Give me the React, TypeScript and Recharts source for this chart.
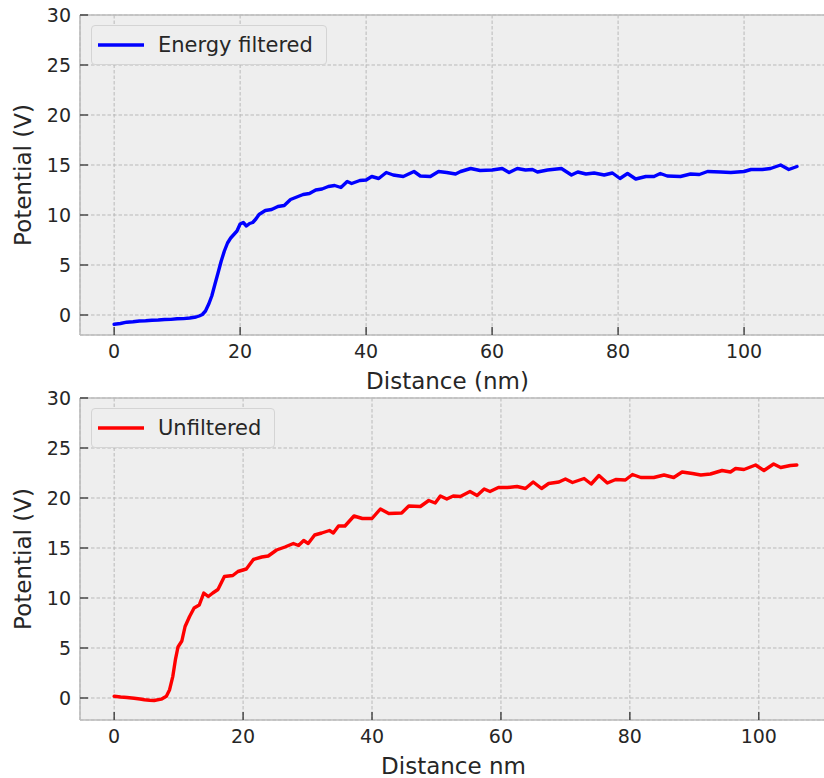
import { LineChart, Line, XAxis, YAxis, CartesianGrid, ReferenceLine, Legend, Label } from 'recharts';

// energy filtered profile (nm, V)
const filteredDistance = [
  0, 1, 2, 3, 4, 5, 6, 7, 8, 9, 10, 11, 12, 13, 13.5, 14, 14.5, 15, 15.5, 16, 16.5, 17, 17.5, 18, 18.5, 19,
  19.5, 20, 20.5, 21, 21.5, 22, 22.5, 23, 24, 25, 26, 27, 28, 29, 30, 31, 32, 33, 34, 35, 36, 37, 37.7, 39,
  40, 40.9, 42, 43.2, 44.3, 45.9, 47.6, 48.6, 50.2, 51.5, 52.8, 54.2, 55, 56.6, 58.1, 60, 61.6, 62.7, 64,
  65.3, 66.4, 67.2, 68.8, 71, 72.6, 73.6, 74.9, 76.2, 77.8, 79.1, 80.3, 81.5, 82.8, 84.4, 85.7, 86.7, 87.8,
  89.9, 91.5, 92.9, 94.2, 96.3, 97.9, 100, 101.1, 102.9, 104.2, 105.8, 107.1, 108.4,
];
const filteredPotential = [
  -0.92, -0.85, -0.72, -0.68, -0.6, -0.58, -0.52, -0.5, -0.45, -0.44, -0.38, -0.36, -0.3, -0.2, -0.1, 0.05,
  0.4, 1.07, 1.9, 3.07, 4.23, 5.4, 6.4, 7.2, 7.7, 8.05, 8.4, 9.1, 9.25, 8.9, 9.15, 9.25, 9.6, 10.05, 10.45,
  10.55, 10.85, 10.95, 11.55, 11.8, 12.05, 12.15, 12.5, 12.6, 12.85, 12.95, 12.75, 13.35, 13.15, 13.45, 13.5,
  13.85, 13.65, 14.25, 14.0, 13.85, 14.35, 13.9, 13.85, 14.35, 14.25, 14.1, 14.35, 14.65, 14.45, 14.5, 14.65,
  14.25, 14.65, 14.5, 14.55, 14.3, 14.5, 14.65, 14.0, 14.3, 14.1, 14.2, 14.0, 14.2, 13.65, 14.15, 13.6, 13.85,
  13.85, 14.15, 13.9, 13.85, 14.1, 14.05, 14.35, 14.3, 14.25, 14.35, 14.55, 14.55, 14.65, 15.0, 14.55, 14.85,
];

// unfiltered profile (nm, V)
const unfilteredDistance = [
  0, 1, 2, 3.1, 4, 4.7, 5.5, 6.2, 7.3, 8.1, 8.6, 9.1, 9.5, 9.9, 10.5, 11, 11.7, 12.4, 13.2, 13.9, 14.6, 15.3,
  16.1, 17.1, 18.4, 19.2, 20.5, 21.6, 22.9, 23.9, 25.2, 26.5, 27.8, 28.6, 29.4, 30.1, 31.1, 32.2, 33.4, 34,
  34.8, 35.8, 37.2, 38.5, 40, 41.3, 42.6, 44.6, 45.7, 47.5, 48.8, 49.8, 50.6, 51.6, 52.6, 53.7, 55.2, 56.3,
  57.4, 58.3, 59.6, 61, 62.5, 63.8, 65, 66.3, 67.4, 69, 70, 71.1, 72.9, 74, 75.2, 76.5, 77.8, 79.3, 80.4,
  81.7, 83.7, 85.3, 86.8, 88.1, 89.7, 91, 92.5, 94.3, 95.6, 96.4, 97.7, 99.5, 100.8, 102.3, 103.4, 104.9, 105.9,
];
const unfilteredPotential = [
  0.17, 0.1, 0.05, -0.03, -0.1, -0.17, -0.22, -0.25, -0.12, 0.17, 0.83, 2.17, 3.83, 5.1, 5.7, 7.15, 8.15, 9.0,
  9.3, 10.5, 10.15, 10.5, 10.85, 12.15, 12.25, 12.65, 12.9, 13.85, 14.1, 14.2, 14.8, 15.1, 15.45, 15.25, 15.75,
  15.45, 16.3, 16.5, 16.75, 16.5, 17.2, 17.2, 18.2, 17.95, 17.95, 18.9, 18.45, 18.5, 19.2, 19.15, 19.75, 19.5,
  20.2, 19.9, 20.2, 20.15, 20.65, 20.25, 20.9, 20.65, 21.05, 21.05, 21.15, 20.95, 21.6, 20.95, 21.45, 21.6,
  21.9, 21.55, 21.95, 21.4, 22.25, 21.5, 21.85, 21.8, 22.35, 22.05, 22.05, 22.3, 22.05, 22.6, 22.45, 22.3,
  22.4, 22.75, 22.6, 22.95, 22.85, 23.3, 22.75, 23.4, 23.05, 23.25, 23.3,
];

const distanceTicks = [0, 20, 40, 60, 80, 100];
const potentialTicks = [0, 5, 10, 15, 20, 25, 30];

const FONT = '"DejaVu Sans", sans-serif';
const TEXT = '#262626';
const SPINE = '#bcbcbc';

const toPoints = (xs: number[], ys: number[]) => xs.map((x, i) => ({ distance: x, potential: ys[i] }));

// ticks point inward, like the matplotlib bmh style
const YTick = (props: any) => {
  const { x, y, payload } = props;
  return (
    <g>
      <line x1={x} x2={x + 8} y1={y} y2={y} stroke="#333" strokeWidth={1.3} />
      <text x={x - 9} y={y} dy="0.36em" textAnchor="end" fontSize={19} fontFamily={FONT} fill={TEXT}>
        {payload.value}
      </text>
    </g>
  );
};

const XTick = (props: any) => {
  const { x, y, payload } = props;
  return (
    <g>
      <line x1={x} x2={x} y1={y - 8} y2={y} stroke="#333" strokeWidth={1.3} />
      <text x={x} y={y + 22.5} textAnchor="middle" fontSize={19} fontFamily={FONT} fill={TEXT}>
        {payload.value}
      </text>
    </g>
  );
};

const LegendBox = ({ payload }: any) => (
  <div>
    {(payload || []).map((entry: any) => (
      <div
        key={entry.value}
        style={{
          display: 'flex',
          alignItems: 'center',
          height: 38,
          padding: '0 13px 0 6px',
          background: '#eeeeee',
          border: '1px solid #d4d4d4',
          borderRadius: 4,
          fontFamily: FONT,
          fontSize: 21,
          color: TEXT,
          whiteSpace: 'nowrap',
        }}
      >
        <svg width={46} height={6} style={{ marginRight: 14 }}>
          <line x1={0} x2={46} y1={3} y2={3} stroke={entry.color} strokeWidth={3.4} />
        </svg>
        <span>{entry.value}</span>
      </div>
    ))}
  </div>
);

interface PanelProps {
  points: { distance: number; potential: number }[];
  color: string;
  name: string;
  xDomain: [number, number];
  yDomain: [number, number];
  xLabel: string;
  xLabelShift: number;
  xLabelSize: number;
  height: number;
  top: number;
  xAxisHeight: number;
  legendTop: number;
}

function Panel(props: PanelProps) {
  const { points, color, name, xDomain, yDomain, xLabel, xLabelShift, xLabelSize, height, top, xAxisHeight, legendTop } = props;
  return (
    <LineChart width={840} height={height} margin={{ top, right: 9, bottom: 0, left: 0 }}>
      <CartesianGrid stroke="#b9b9b9" strokeDasharray="3.5 2" fill="#eeeeee" fillOpacity={1} />
      <XAxis
        type="number"
        dataKey="distance"
        domain={xDomain}
        ticks={distanceTicks}
        allowDataOverflow
        height={xAxisHeight}
        tickSize={0}
        tickMargin={0}
        tick={<XTick />}
        axisLine={{ stroke: SPINE, strokeWidth: 1.6 }}
      >
        <Label
          content={(p: any) => (
            <text
              x={p.viewBox.x + p.viewBox.width / 2 + xLabelShift}
              y={p.viewBox.y + 54}
              textAnchor="middle"
              fontSize={xLabelSize}
              fontFamily={FONT}
              fill={TEXT}
            >
              {xLabel}
            </text>
          )}
        />
      </XAxis>
      <YAxis
        type="number"
        dataKey="potential"
        domain={yDomain}
        ticks={potentialTicks}
        allowDataOverflow
        width={80}
        tickSize={0}
        tickMargin={0}
        tick={<YTick />}
        axisLine={{ stroke: SPINE, strokeWidth: 1.6 }}
      >
        <Label
          content={(p: any) => {
            const cx = 23;
            const cy = p.viewBox.y + p.viewBox.height / 2;
            return (
              <text
                x={cx}
                y={cy}
                dy="0.36em"
                transform={`rotate(-90 ${cx} ${cy})`}
                textAnchor="middle"
                fontSize={23}
                fontFamily={FONT}
                fill={TEXT}
              >
                Potential (V)
              </text>
            );
          }}
        />
      </YAxis>
      <ReferenceLine y={yDomain[1]} stroke={SPINE} strokeWidth={1.6} />
      <Legend
        layout="vertical"
        align="center"
        verticalAlign="middle"
        content={<LegendBox />}
        wrapperStyle={{ left: 91, top: legendTop, width: 'auto', height: 'auto' }}
      />
      <Line
        data={points}
        dataKey="potential"
        name={name}
        type="linear"
        stroke={color}
        strokeWidth={3.4}
        strokeLinejoin="round"
        strokeLinecap="round"
        dot={false}
        isAnimationActive={false}
      />
    </LineChart>
  );
}

export default function App() {
  return (
    <div style={{ position: 'fixed', left: 0, top: 0, width: 824, height: 778, overflow: 'hidden', background: '#fff' }}>
      <div style={{ position: 'absolute', left: 0, top: 0 }}>
        <Panel
          points={toPoints(filteredDistance, filteredPotential)}
          color="#0000ff"
          name="Energy filtered"
          xDomain={[-5.42, 113.8]}
          yDomain={[-2, 30]}
          xLabel="Distance (nm)"
          xLabelShift={-8}
          xLabelSize={23}
          height={400}
          top={15}
          xAxisHeight={65}
          legendTop={25}
        />
      </div>
      <div style={{ position: 'absolute', left: 0, top: 388 }}>
        <Panel
          points={toPoints(unfilteredDistance, unfilteredPotential)}
          color="#ff0000"
          name="Unfiltered"
          xDomain={[-5.3, 111.2]}
          yDomain={[-2.2, 30]}
          xLabel="Distance nm"
          xLabelShift={-2}
          xLabelSize={23}
          height={390}
          top={10}
          xAxisHeight={58}
          legendTop={20}
        />
      </div>
    </div>
  );
}
